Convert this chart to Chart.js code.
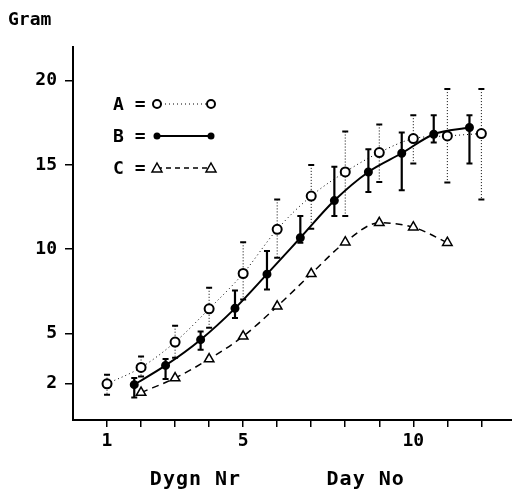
<!DOCTYPE html>
<html lang="en">
<head>
    <meta charset="UTF-8">
    <title>Gram / Day No</title>
    <script src="https://cdn.jsdelivr.net/npm/chart.js"></script>
    <style>
        body { margin: 0; background: #fff; }
        canvas { display: block; }
    </style>
</head>
<body>
    <canvas id="growthChart" width="512" height="495"></canvas>

    <script>
        // Serie A (oppna cirklar, prickad linje)
        const daysA = [1, 2, 3, 4, 5, 6, 7, 8, 9, 10, 11, 12];
        const gramA = [2.0, 2.97, 4.48, 6.45, 8.55, 11.17, 13.15, 14.58, 15.73, 16.56, 16.72, 16.86];
        const hiA = [2.54, 3.62, 5.45, 7.7, 10.4, 12.95, 15.0, 16.98, 17.4, 17.95, 19.5, 19.5];
        const loA = [1.35, 2.43, 3.55, 5.33, 7.0, 9.48, 11.2, 11.96, 13.98, 15.08, 13.95, 12.95];

        // Serie B (fyllda punkter, heldragen linje)
        const daysB = [1.8, 2.72, 3.75, 4.76, 5.7, 6.68, 7.68, 8.68, 9.66, 10.6, 11.65];
        const gramB = [1.95, 3.09, 4.62, 6.48, 8.51, 10.67, 12.88, 14.58, 15.69, 16.82, 17.22];
        const hiB = [2.34, 3.47, 5.11, 7.54, 9.88, 11.96, 14.89, 15.93, 16.92, 17.95, 17.95];
        const loB = [1.18, 2.28, 4.02, 5.91, 7.6, 10.38, 11.96, 13.39, 13.49, 16.33, 15.08];

        // Serie C (trianglar, streckad linje)
        const daysC = [2, 3, 4, 5, 6, 7, 8, 9, 10, 11];
        const gramC = [1.48, 2.34, 3.47, 4.82, 6.6, 8.53, 10.41, 11.56, 11.3, 10.38];

        const yTicks = [2, 5, 10, 15, 20];
        const xTicks = [1, 2, 3, 4, 5, 6, 7, 8, 9, 10, 11, 12];
        const xLabels = [1, 5, 10];

        const FONT = '"DejaVu Sans Mono", monospace';

        const pts = (xs, ys) => xs.map((x, i) => ({ x: x, y: ys[i] }));

        // Felstaplar ritas under linjerna och punkterna
        const errorBars = {
            id: 'errorBars',
            beforeDatasetsDraw(chart) {
                const ctx = chart.ctx;
                const yScale = chart.scales.y;
                chart.data.datasets.forEach((ds, di) => {
                    if (!ds.errHi) return;
                    const meta = chart.getDatasetMeta(di);
                    ctx.save();
                    ctx.strokeStyle = '#000';
                    meta.data.forEach((p, i) => {
                        const top = yScale.getPixelForValue(ds.errHi[i]);
                        const bot = yScale.getPixelForValue(ds.errLo[i]);
                        ctx.lineWidth = ds.errWidth;
                        ctx.setLineDash(ds.errDash);
                        ctx.beginPath();
                        ctx.moveTo(p.x, top);
                        ctx.lineTo(p.x, bot);
                        ctx.stroke();
                        ctx.setLineDash([]);
                        ctx.lineWidth = 2;
                        ctx.beginPath();
                        ctx.moveTo(p.x - 3, top);
                        ctx.lineTo(p.x + 3, top);
                        ctx.moveTo(p.x - 3, bot);
                        ctx.lineTo(p.x + 3, bot);
                        ctx.stroke();
                    });
                    ctx.restore();
                });
            }
        };

        function marker(ctx, style, x, y) {
            ctx.beginPath();
            if (style === 'circle') {
                ctx.arc(x, y, 4, 0, Math.PI * 2);
                ctx.fillStyle = '#fff';
                ctx.fill();
                ctx.lineWidth = 2;
                ctx.stroke();
            } else if (style === 'dot') {
                ctx.arc(x, y, 3.5, 0, Math.PI * 2);
                ctx.fillStyle = '#000';
                ctx.fill();
            } else {
                ctx.moveTo(x, y - 5);
                ctx.lineTo(x + 5, y + 4);
                ctx.lineTo(x - 5, y + 4);
                ctx.closePath();
                ctx.fillStyle = '#fff';
                ctx.fill();
                ctx.lineWidth = 1.5;
                ctx.stroke();
            }
        }

        // Texter och teckenförklaring
        const labels = {
            id: 'labels',
            afterDraw(chart) {
                const ctx = chart.ctx;
                const area = chart.chartArea;
                const xs = chart.scales.x;
                ctx.save();
                ctx.fillStyle = '#000';
                ctx.strokeStyle = '#000';
                ctx.font = 'bold 18px ' + FONT;
                ctx.textBaseline = 'middle';
                ctx.textAlign = 'left';
                ctx.fillText('Gram', 8, 20);

                ctx.font = 'bold 20px ' + FONT;
                ctx.letterSpacing = '1px';
                ctx.textAlign = 'center';
                ctx.fillText('Dygn Nr', xs.getPixelForValue(3.6), 480);
                ctx.fillText('Day No', xs.getPixelForValue(8.6), 480);
                ctx.letterSpacing = '0px';

                const rows = [
                    ['A', 'circle', [1, 3], 1],
                    ['B', 'dot', [], 2],
                    ['C', 'tri', [5, 4], 1.5]
                ];
                ctx.textAlign = 'left';
                ctx.font = 'bold 18px ' + FONT;
                rows.forEach((r, i) => {
                    const y = area.top + 57 + i * 32;
                    const x0 = area.left + 40;
                    ctx.fillStyle = '#000';
                    ctx.fillText(r[0] + ' =', x0, y + 1);
                    ctx.setLineDash(r[2]);
                    ctx.lineWidth = r[3];
                    ctx.beginPath();
                    ctx.moveTo(x0 + 44, y);
                    ctx.lineTo(x0 + 98, y);
                    ctx.stroke();
                    ctx.setLineDash([]);
                    marker(ctx, r[1], x0 + 44, y);
                    marker(ctx, r[1], x0 + 98, y);
                });
                ctx.restore();
            }
        };

        const ctx = document.getElementById('growthChart').getContext('2d');
        const growthChart = new Chart(ctx, {
            type: 'scatter',
            data: {
                datasets: [
                    {
                        label: 'A',
                        data: pts(daysA, gramA),
                        showLine: true,
                        borderColor: '#000',
                        borderWidth: 1,
                        borderDash: [1, 3],
                        cubicInterpolationMode: 'monotone',
                        pointStyle: 'circle',
                        pointRadius: 4.5,
                        pointBorderWidth: 2,
                        pointBackgroundColor: '#fff',
                        pointBorderColor: '#000',
                        errHi: hiA,
                        errLo: loA,
                        errDash: [1, 2],
                        errWidth: 1
                    },
                    {
                        label: 'B',
                        data: pts(daysB, gramB),
                        showLine: true,
                        borderColor: '#000',
                        borderWidth: 2,
                        cubicInterpolationMode: 'monotone',
                        pointStyle: 'circle',
                        pointRadius: 3.5,
                        pointBackgroundColor: '#000',
                        pointBorderColor: '#000',
                        errHi: hiB,
                        errLo: loB,
                        errDash: [],
                        errWidth: 2.2
                    },
                    {
                        label: 'C',
                        data: pts(daysC, gramC),
                        showLine: true,
                        borderColor: '#000',
                        borderWidth: 1.5,
                        borderDash: [7, 5],
                        cubicInterpolationMode: 'monotone',
                        pointStyle: 'triangle',
                        pointRadius: 5.5,
                        pointBorderWidth: 1.5,
                        pointBackgroundColor: '#fff',
                        pointBorderColor: '#000'
                    }
                ]
            },
            options: {
                responsive: false,
                animation: false,
                layout: { autoPadding: false, padding: { top: 47, right: 0, left: 0, bottom: 0 } },
                plugins: {
                    legend: { display: false },
                    tooltip: { enabled: false }
                },
                scales: {
                    x: {
                        type: 'linear',
                        min: 0,
                        max: 12.9,
                        afterBuildTicks: s => { s.ticks = xTicks.map(v => ({ value: v })); },
                        afterFit: s => { s.height = 75; },
                        border: { display: true, color: '#000', width: 2 },
                        grid: { drawOnChartArea: false, drawTicks: true, tickLength: 7, color: '#000', lineWidth: 1.5 },
                        ticks: {
                            color: '#000',
                            padding: 4,
                            maxRotation: 0,
                            autoSkip: false,
                            font: { family: FONT, size: 18, weight: 'bold' },
                            callback: v => xLabels.includes(v) ? String(v) : ''
                        }
                    },
                    y: {
                        type: 'linear',
                        min: -0.15,
                        max: 22,
                        afterBuildTicks: s => { s.ticks = yTicks.map(v => ({ value: v })); },
                        afterFit: s => { s.width = 73; },
                        border: { display: true, color: '#000', width: 2 },
                        grid: { drawOnChartArea: false, drawTicks: true, tickLength: 8, color: '#000', lineWidth: 1.5 },
                        ticks: {
                            color: '#000',
                            padding: 8,
                            font: { family: FONT, size: 18, weight: 'bold' }
                        }
                    }
                }
            },
            plugins: [errorBars, labels]
        });
    </script>
</body>
</html>
